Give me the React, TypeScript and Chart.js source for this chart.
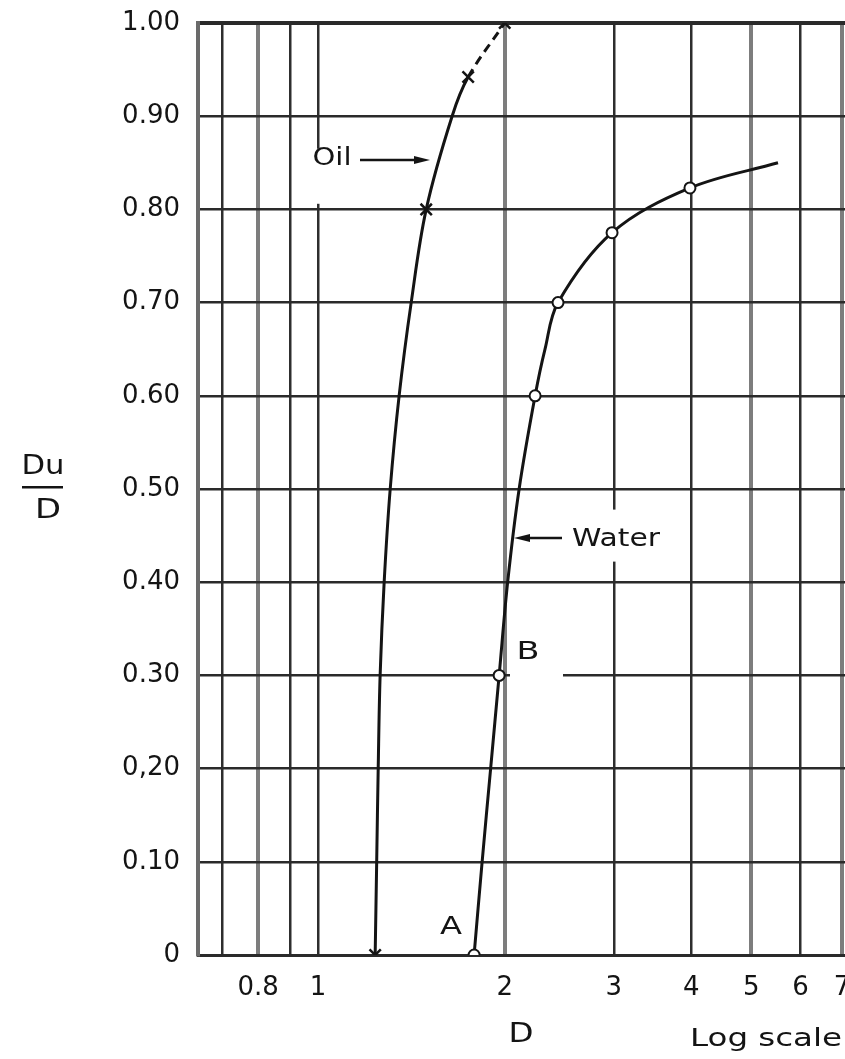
import { useEffect, useRef } from "react";
import { Chart, registerables } from "chart.js";

Chart.register(...registerables);

// Oil curve: D (log scale) vs Du/D
const oilCurveD = [1.236, 1.243, 1.25, 1.259, 1.278, 1.307, 1.351, 1.413, 1.494, 1.645, 1.746, 2.0];
const oilCurveRatio = [0, 0.1, 0.2, 0.3, 0.4, 0.5, 0.6, 0.7, 0.8, 0.9, 0.942, 1.0];
// Oil measured points (x markers)
const oilPointD = [1.236, 1.494, 1.746, 2.0];
const oilPointRatio = [0, 0.8, 0.942, 1.0];

// Water curve
const waterCurveD = [1.785, 1.839, 1.898, 1.959, 2.022, 2.11, 2.239, 2.323, 2.438, 2.98, 3.98, 5.52];
const waterCurveRatio = [0, 0.1, 0.2, 0.3, 0.4, 0.5, 0.6, 0.65, 0.7, 0.775, 0.823, 0.85];
// Water measured points (circles)
const waterPointD = [1.785, 1.959, 2.239, 2.438, 2.98, 3.98];
const waterPointRatio = [0, 0.3, 0.6, 0.7, 0.775, 0.823];

// Axes
const xTickValues = [0.7, 0.8, 0.9, 1, 2, 3, 4, 5, 6, 7];
const xTickLabels = ["", "0.8", "", "1", "2", "3", "4", "5", "6", "7"];
const xHeavyLines = [0.8, 2, 5, 7];
const yTickValues = [0, 0.1, 0.2, 0.3, 0.4, 0.5, 0.6, 0.7, 0.8, 0.9, 1.0];
const yTickLabels = ["0", "0.10", "0,20", "0.30", "0.40", "0.50", "0.60", "0.70", "0.80", "0.90", "1.00"];

const FONT = "'DejaVu Sans', 'Liberation Sans', sans-serif";
const INK = "#141414";

function toXY(xs: number[], ys: number[]) {
  return xs.map((x, i) => ({ x, y: ys[i] }));
}

function drawText(
  ctx: CanvasRenderingContext2D,
  text: string,
  cx: number,
  cy: number,
  size: number,
  targetWidth?: number
) {
  ctx.save();
  ctx.font = `${size}px ${FONT}`;
  ctx.fillStyle = INK;
  ctx.textAlign = "center";
  ctx.textBaseline = "middle";
  const w = ctx.measureText(text).width;
  const sx = targetWidth ? targetWidth / w : 1;
  ctx.translate(cx, cy);
  ctx.scale(sx, 1);
  ctx.fillText(text, 0, 0);
  ctx.restore();
}

function arrow(ctx: CanvasRenderingContext2D, x0: number, x1: number, y: number) {
  const dir = x1 > x0 ? 1 : -1;
  ctx.save();
  ctx.strokeStyle = INK;
  ctx.fillStyle = INK;
  ctx.lineWidth = 2.5;
  ctx.beginPath();
  ctx.moveTo(x0, y);
  ctx.lineTo(x1 - dir * 10, y);
  ctx.stroke();
  ctx.beginPath();
  ctx.moveTo(x1, y);
  ctx.lineTo(x1 - dir * 16, y - 4);
  ctx.lineTo(x1 - dir * 16, y + 4);
  ctx.closePath();
  ctx.fill();
  ctx.restore();
}

const annotations = {
  id: "annotations",
  beforeDatasetsDraw(chart: any) {
    const ctx: CanvasRenderingContext2D = chart.ctx;
    const ys = chart.scales.y;
    ctx.save();
    ctx.fillStyle = "#ffffff";
    // white patches behind the labels (gaps in the grid)
    const oilY = ys.getPixelForValue(0.835);
    ctx.fillRect(308, oilY - 28, 50, 55);
    const watY = ys.getPixelForValue(0.45);
    ctx.fillRect(566, watY - 26, 100, 52);
    const bY = ys.getPixelForValue(0.3);
    ctx.fillRect(510, bY - 34, 53, 40);
    ctx.restore();
  },
  afterDraw(chart: any) {
    const ctx: CanvasRenderingContext2D = chart.ctx;
    // y-axis title as a fraction Du / D
    drawText(ctx, "Du", 43, 467, 26, 43);
    ctx.save();
    ctx.fillStyle = INK;
    ctx.fillRect(22, 486, 41, 2.5);
    ctx.restore();
    drawText(ctx, "D", 48, 511, 26, 26);
    // x-axis titles
    drawText(ctx, "D", 521, 1035, 26, 25);
    drawText(ctx, "Log scale", 766, 1040, 24, 152);
    // curve labels
    drawText(ctx, "Oil", 332, 159, 24, 39);
    arrow(ctx, 360, 430, 160);
    drawText(ctx, "Water", 616, 539, 25, 88);
    arrow(ctx, 562, 514, 538);
    drawText(ctx, "A", 451, 928, 24, 22);
    drawText(ctx, "B", 528, 653, 24, 23);
  },
};

export default function App() {
  const ref = useRef<HTMLCanvasElement | null>(null);

  useEffect(() => {
    if (!ref.current) return;
    const chart = new Chart(ref.current, {
      type: "line",
      data: {
        datasets: [
          {
            label: "Oil points",
            data: toXY(oilPointD, oilPointRatio),
            showLine: false,
            pointStyle: "crossRot",
            pointRadius: 8,
            pointBorderWidth: 2.5,
            pointBorderColor: INK,
            pointBackgroundColor: INK,
            borderColor: INK,
            order: 0,
          },
          {
            label: "Water points",
            data: toXY(waterPointD, waterPointRatio),
            showLine: false,
            pointStyle: "circle",
            pointRadius: 5.5,
            pointBorderWidth: 2,
            pointBorderColor: INK,
            pointBackgroundColor: "#ffffff",
            borderColor: INK,
            order: 0,
          },
          {
            label: "Oil",
            data: toXY(oilCurveD, oilCurveRatio),
            borderColor: INK,
            borderWidth: 3,
            pointRadius: 0,
            tension: 0.35,
            fill: false,
            order: 1,
            segment: {
              borderDash: (c: any) => (c.p0DataIndex >= oilCurveD.length - 2 ? [9, 6] : undefined),
            },
          },
          {
            label: "Water",
            data: toXY(waterCurveD, waterCurveRatio),
            borderColor: INK,
            borderWidth: 3,
            pointRadius: 0,
            tension: 0.35,
            fill: false,
            order: 1,
          },
        ],
      },
      options: {
        animation: false,
        responsive: false,
        layout: { autoPadding: false, padding: { top: 23, left: 0, right: 0, bottom: 0 } },
        plugins: {
          legend: { display: false },
          tooltip: { enabled: false },
        },
        scales: {
          x: {
            type: "logarithmic",
            bounds: "data",
            min: 0.64,
            max: 7.08,
            afterBuildTicks: (s: any) => {
              s.ticks = xTickValues.map((v) => ({ value: v }));
            },
            afterFit: (s: any) => {
              s.height = 104;
              s.paddingLeft = 0;
              s.paddingRight = 0;
            },
            ticks: {
              autoSkip: false,
              maxRotation: 0,
              minRotation: 0,
              padding: 18,
              color: INK,
              font: { family: FONT, size: 26 },
              callback: (v: any) => {
                const i = xTickValues.indexOf(Number(v));
                return i >= 0 ? xTickLabels[i] : "";
              },
            },
            grid: {
              drawTicks: false,
              color: (c: any) =>
                c.tick && xHeavyLines.includes(c.tick.value) ? "#7d7d7d" : "#2e2e2e",
              lineWidth: (c: any) =>
                c.tick && xHeavyLines.includes(c.tick.value) ? 4 : 2.5,
            },
            border: { display: true, color: "#2a2a2a", width: 3 },
          },
          y: {
            type: "linear",
            bounds: "data",
            min: 0,
            max: 1,
            afterBuildTicks: (s: any) => {
              s.ticks = yTickValues.map((v) => ({ value: v }));
            },
            afterFit: (s: any) => {
              s.width = 198;
              s.paddingTop = 0;
              s.paddingBottom = 0;
            },
            ticks: {
              autoSkip: false,
              padding: 18,
              color: INK,
              font: { family: FONT, size: 26 },
              callback: (v: any) => {
                const i = yTickValues.findIndex((t) => Math.abs(t - Number(v)) < 1e-6);
                return i >= 0 ? yTickLabels[i] : "";
              },
            },
            grid: {
              drawTicks: false,
              color: "#2a2a2a",
              lineWidth: (c: any) => (c.tick && Math.abs(c.tick.value - 1) < 1e-6 ? 4 : 2.5),
            },
            border: { display: true, color: "#6a6a6a", width: 4 },
          },
        },
      },
      plugins: [annotations],
    });
    return () => chart.destroy();
  }, []);

  return (
    <div style={{ position: "fixed", left: 0, top: 0, width: 845, height: 1059, background: "#fff" }}>
      <canvas ref={ref} width={845} height={1059} style={{ display: "block" }} />
    </div>
  );
}
